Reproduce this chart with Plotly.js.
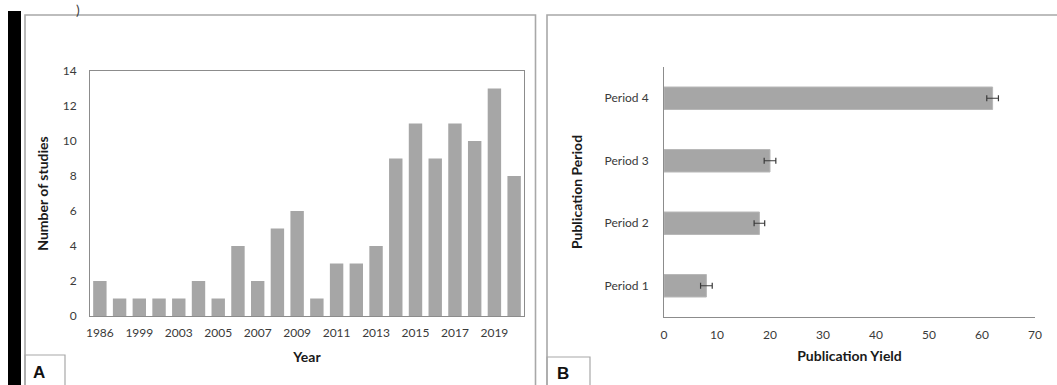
<!DOCTYPE html>
<html>
<head>
<meta charset="utf-8">
<script src="https://cdn.plot.ly/plotly-3.0.1.min.js"></script>
<style>
  html, body { margin: 0; padding: 0; background: #fff; }
  #chart { width: 1057px; height: 385px; }
</style>
</head>
<body>
<div id="chart"></div>
<script>
// Panel A data
const years = ['1986', '1998', '1999', '2001', '2003', '2004', '2005', '2006', '2007', '2008', '2009',
               '2010', '2011', '2012', '2013', '2014', '2015', '2016', '2017', '2018', '2019', '2020'];
const studies = [2, 1, 1, 1, 1, 2, 1, 4, 2, 5, 6, 1, 3, 3, 4, 9, 11, 9, 11, 10, 13, 8];
const labeledYears = ['1986', '1999', '2003', '2005', '2007', '2009', '2011', '2013', '2015', '2017', '2019'];
const studyTicks = [0, 2, 4, 6, 8, 10, 12, 14];

// Panel B data
const periods = ['Period 1', 'Period 2', 'Period 3', 'Period 4'];
const yieldValues = [8, 18, 20, 62];
const yieldErrors = [1.1, 1.0, 1.1, 1.1];
const yieldTicks = [0, 10, 20, 30, 40, 50, 60, 70];

const W = 1057, H = 385;
const px = v => v / W;
const py = v => 1 - v / H;

const FONT = 'Lato, "Open Sans", sans-serif';
const barColor = '#a6a6a6';
const tickColor = '#3a3a3a';
const axisColor = '#8c8c8c';
const frameColor = '#a8a8a8';
const titleFont = { family: FONT, size: 14, color: '#1a1a1a', weight: 'bold' };
const tickFont = { family: FONT, size: 12, color: tickColor };

const traces = [
  {
    type: 'bar', x: years, y: studies, xaxis: 'x', yaxis: 'y',
    marker: { color: barColor }, width: 0.68
  },
  {
    type: 'bar', orientation: 'h', x: yieldValues, y: periods, xaxis: 'x2', yaxis: 'y2',
    width: 0.36,
    marker: { color: barColor, line: { color: '#b8b8b8', width: 1 } },
    error_x: { type: 'data', array: yieldErrors, visible: true, color: '#3a3a3a', thickness: 1.2, width: 3 }
  }
];

const layout = {
  width: W, height: H,
  margin: { l: 0, r: 0, t: 0, b: 0 },
  paper_bgcolor: '#fff', plot_bgcolor: '#fff',
  showlegend: false,
  font: { family: FONT, size: 12, color: tickColor },
  xaxis: {
    domain: [px(90), px(524)],
    anchor: 'y',
    type: 'category',
    tickmode: 'array', tickvals: labeledYears, ticktext: labeledYears,
    showline: true, linecolor: axisColor, linewidth: 1, mirror: true,
    showgrid: false, zeroline: false, ticks: '',
    ticklabelstandoff: 6,
    tickfont: tickFont,
    title: { text: 'Year', font: titleFont, standoff: 12 }
  },
  yaxis: {
    domain: [py(316), py(71)],
    anchor: 'x',
    range: [0, 14],
    tickmode: 'array', tickvals: studyTicks,
    showline: true, linecolor: axisColor, linewidth: 1, mirror: true,
    showgrid: false, zeroline: false, ticks: '',
    ticklabelstandoff: 10,
    tickfont: tickFont,
    title: { text: 'Number of studies', font: titleFont, standoff: 10 }
  },
  xaxis2: {
    domain: [px(664), px(1035)],
    anchor: 'y2',
    range: [0, 70],
    tickmode: 'array', tickvals: yieldTicks,
    showline: true, linecolor: axisColor, linewidth: 1,
    showgrid: false, zeroline: false, ticks: '',
    ticklabelstandoff: 7,
    tickfont: tickFont,
    title: { text: 'Publication Yield', font: titleFont, standoff: 9 }
  },
  yaxis2: {
    domain: [py(317), py(67)],
    anchor: 'x2',
    type: 'category',
    showline: true, linecolor: axisColor, linewidth: 1,
    showgrid: false, zeroline: false, ticks: '',
    ticklabelstandoff: 12,
    tickfont: tickFont,
    title: { text: 'Publication Period', font: titleFont, standoff: 18 }
  },
  shapes: [
    // black strip at left
    { type: 'rect', xref: 'paper', yref: 'paper', x0: px(8), x1: px(21), y0: py(400), y1: py(11),
      fillcolor: '#000', line: { width: 0 }, layer: 'above' },
    // panel A frame
    { type: 'rect', xref: 'paper', yref: 'paper', x0: px(25), x1: px(535.5), y0: py(400), y1: py(15),
      line: { color: frameColor, width: 1.6 }, layer: 'below' },
    // panel B frame
    { type: 'rect', xref: 'paper', yref: 'paper', x0: px(547), x1: px(1080), y0: py(400), y1: py(15),
      line: { color: frameColor, width: 1.6 }, layer: 'below' },
    // label boxes
    { type: 'rect', xref: 'paper', yref: 'paper', x0: px(25), x1: px(65), y0: py(400), y1: py(355),
      line: { color: frameColor, width: 1.2 }, layer: 'below' },
    { type: 'rect', xref: 'paper', yref: 'paper', x0: px(547), x1: px(590), y0: py(400), y1: py(357),
      line: { color: frameColor, width: 1.2 }, layer: 'below' }
  ],
  annotations: [
    { text: 'A', xref: 'paper', yref: 'paper', x: px(31), y: py(372), xanchor: 'left', yanchor: 'middle',
      showarrow: false, font: { family: 'Liberation Sans, Arial, sans-serif', size: 17, color: '#111', weight: 'bold' } },
    { text: 'B', xref: 'paper', yref: 'paper', x: px(555), y: py(373), xanchor: 'left', yanchor: 'middle',
      showarrow: false, font: { family: 'Liberation Sans, Arial, sans-serif', size: 17, color: '#111', weight: 'bold' } },
    { text: ')', xref: 'paper', yref: 'paper', x: px(78), y: py(-1), xanchor: 'center', yanchor: 'top',
      showarrow: false, font: { family: FONT, size: 14, color: '#444' } }
  ]
};

Plotly.newPlot('chart', traces, layout, { displayModeBar: false, staticPlot: true });
</script>
</body>
</html>
